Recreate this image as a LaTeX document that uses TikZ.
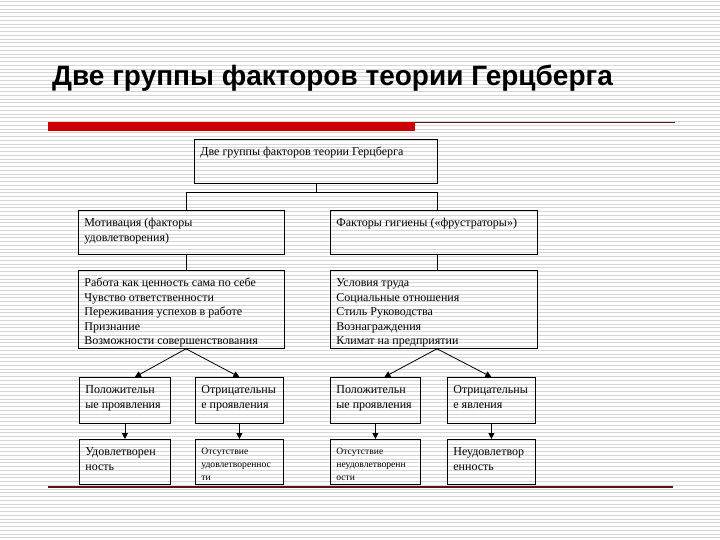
\documentclass[tikz,border=0pt]{standalone}
\usepackage{fontspec}
\setmainfont{Liberation Serif}
\newfontfamily\titlefont{Liberation Sans}
\usetikzlibrary{arrows.meta}
\definecolor{barred}{RGB}{204,0,0}
\definecolor{linedark}{RGB}{90,20,20}
\definecolor{stripe}{RGB}{214,214,214}
\tikzset{
  bx/.style={draw=black, line width=0.8pt, anchor=north west, inner xsep=6pt, inner ysep=6pt},
  conn/.style={draw=black, line width=0.8pt},
  arr/.style={conn, -{Triangle[length=6pt,width=6pt]}},
}
\newcommand\bxnode[7]{\node[bx, minimum width=#4pt, minimum height=#5pt] (#1) at (#2,#3)
  {\parbox[t][\dimexpr#5pt-12pt\relax][t]{\dimexpr#4pt-12pt\relax}{\raggedright#6\strut#7}};}
\begin{document}
\begin{tikzpicture}[x=1pt,y=-1pt]
\useasboundingbox (0,0) rectangle (720,540);
% striped background
\foreach \yy in {1.5,5.25,...,540} {\draw[stripe, line width=0.9pt] (0,\yy) -- (720,\yy);}
% title
\node[anchor=base west, inner sep=0pt, font=\titlefont\bfseries\fontsize{28}{32}\selectfont] (title) at (52,86) {Две группы факторов теории Герцберга};
% decorative rules
\fill[barred] (48,122.5) rectangle (415,131.5);
\draw[linedark, line width=1pt] (415,123) -- (675,123);
\draw[linedark, line width=1.3pt] (48,487) -- (673,487);
% boxes
\def\fa{\fontsize{12}{14.5}\selectfont}
\def\fb{\fontsize{9.6}{13}\selectfont}
\bxnode{top}{194}{139}{243}{44}{\fa}{Две группы факторов теории Герцберга}
\bxnode{mot}{78}{210}{206}{44}{\fa}{Мотивация (факторы\\удовлетворения)}
\bxnode{hyg}{330}{210}{207}{44}{\fa}{Факторы гигиены («фрустраторы»)}
\bxnode{lmot}{78}{270}{206}{78}{\fa}{Работа как ценность сама по себе\\Чувство ответственности\\Переживания успехов в работе\\Признание\\Возможности совершенствования}
\bxnode{lhyg}{330}{270}{207}{78}{\fa}{Условия труда\\Социальные отношения\\Стиль Руководства\\Вознаграждения\\Климат на предприятии}
\bxnode{pa}{79}{377}{91}{46}{\fa}{Положительн\\ые проявления}
\bxnode{na}{195}{377}{88}{46}{\fa}{Отрицательны\\е проявления}
\bxnode{pb}{330}{377}{90}{46}{\fa}{Положительн\\ые проявления}
\bxnode{nb}{447}{377}{88}{46}{\fa}{Отрицательны\\е явления}
\bxnode{ra}{79}{439}{91}{45}{\fa}{Удовлетворен\\ность}
\bxnode{sa}{195}{439}{88}{45}{\fb}{Отсутствие\\удовлетвореннос\\ти}
\bxnode{sb}{330}{439}{90}{45}{\fb}{Отсутствие\\неудовлетворенн\\ости}
\bxnode{rb}{447}{439}{88}{45}{\fa}{Неудовлетвор\\енность}
% tree connectors
\coordinate (vl) at (186,192);
\coordinate (vr) at (437,192);
\draw[conn] (top.south) -- (top.south |- vl);
\draw[conn] (vl) -- (vr);
\draw[conn] (vl) -- (vl |- mot.north);
\draw[conn] (vr) -- (vr |- hyg.north);
\draw[conn] (vl |- mot.south) -- (vl |- lmot.north);
\draw[conn] (vr |- hyg.south) -- (vr |- lhyg.north);
% arrows
\draw[arr] (vl |- lmot.south) -- ([xshift=10pt]pa.north);
\draw[arr] (vl |- lmot.south) -- (na.north);
\draw[arr] (vr |- lhyg.south) -- ([xshift=9pt]pb.north);
\draw[arr] (vr |- lhyg.south) -- (nb.north);
\draw[arr] (pa.south) -- (ra.north);
\draw[arr] (na.south) -- (sa.north);
\draw[arr] (pb.south) -- (sb.north);
\draw[arr] (nb.south) -- (rb.north);
\end{tikzpicture}
\end{document}
